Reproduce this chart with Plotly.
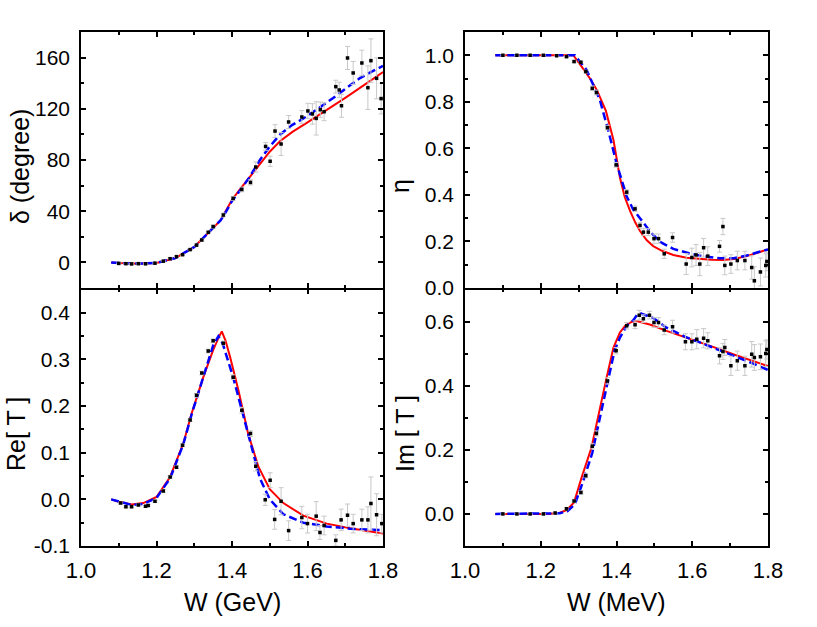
import plotly.graph_objects as go

# ---- data ----
# phase shift delta (degree)
w_delta = [1.100, 1.119, 1.134, 1.152, 1.171, 1.196, 1.218, 1.236, 1.253, 1.269, 1.289, 1.306, 1.320, 1.337,
           1.350, 1.377, 1.403, 1.426, 1.449, 1.463, 1.489, 1.501, 1.514, 1.530, 1.550, 1.585, 1.601, 1.613,
           1.623, 1.634, 1.644, 1.675, 1.684, 1.690, 1.706, 1.721, 1.744, 1.760, 1.768, 1.783, 1.795]
delta = [-0.8, -1.0, -1.2, -1.0, -1.1, -0.6, 1.0, 2.9, 4.5, 6.0, 10.0, 13.5, 17.5, 23.5,
         28.0, 37.0, 50.0, 57.0, 62.5, 74.5, 90.6, 79.0, 102.6, 92.5, 109.7, 113.6, 118.3, 116.0,
         112.5, 119.3, 117.7, 137.3, 134.7, 122.4, 159.7, 148.0, 155.8, 136.5, 157.6, 143.8, 128.0]
delta_err = [0.4, 0.4, 0.4, 0.4, 0.4, 0.4, 0.5, 0.5, 0.6, 0.6, 0.8, 0.8, 1.0, 1.0,
             1.2, 1.5, 1.5, 1.8, 2.0, 4.0, 3.0, 4.0, 5.0, 9.0, 5.0, 5.0, 6.0, 8.0,
             13.0, 6.0, 7.0, 5.0, 6.0, 9.0, 9.0, 9.0, 10.0, 17.0, 17.0, 16.0, 12.0]

w_delta_red = [1.08, 1.10, 1.15, 1.20, 1.25, 1.30, 1.33, 1.35, 1.37, 1.385, 1.40, 1.421, 1.445, 1.474,
               1.50, 1.527, 1.56, 1.598, 1.63, 1.668, 1.70, 1.739, 1.77, 1.80]
delta_red = [0, -0.5, -1.0, -0.4, 3.4, 12, 21, 27, 33, 41, 49, 57, 66, 77.6,
             86.5, 94.6, 102, 109, 115, 122, 128.5, 136.3, 142.5, 148.7]
delta_blue = [0, -0.5, -1.0, -0.4, 3.4, 12, 21, 27, 33, 40, 48, 56, 66, 80,
              90.5, 99.8, 107.5, 114, 120.5, 128.4, 135.5, 144, 149, 153.5]

# inelasticity eta
w_eta = [1.100, 1.137, 1.172, 1.207, 1.242, 1.268, 1.288, 1.306, 1.319, 1.336, 1.347, 1.376, 1.399,
         1.427, 1.449, 1.462, 1.471, 1.484, 1.499, 1.511, 1.526, 1.548, 1.584, 1.599, 1.610, 1.620,
         1.630, 1.641, 1.672, 1.681, 1.686, 1.702, 1.719, 1.739, 1.757, 1.764, 1.780, 1.794, 1.797]
eta = [1.0, 1.0, 1.0, 1.0, 0.998, 0.994, 0.973, 0.970, 0.930, 0.858, 0.840, 0.689, 0.529,
       0.412, 0.340, 0.269, 0.240, 0.240, 0.212, 0.212, 0.147, 0.217, 0.103, 0.131, 0.142, 0.103,
       0.173, 0.137, 0.179, 0.264, 0.097, 0.103, 0.118, 0.118, 0.088, 0.031, 0.069, 0.097, 0.114]
eta_err = [0.002, 0.002, 0.002, 0.002, 0.003, 0.004, 0.005, 0.005, 0.006, 0.01, 0.01, 0.01, 0.01,
           0.01, 0.012, 0.012, 0.015, 0.015, 0.02, 0.02, 0.02, 0.02, 0.045, 0.04, 0.045, 0.05,
           0.04, 0.04, 0.025, 0.035, 0.04, 0.04, 0.04, 0.04, 0.05, 0.06, 0.06, 0.05, 0.04]

w_eta_red = [1.08, 1.286, 1.308, 1.33, 1.348, 1.372, 1.392, 1.409, 1.422, 1.436, 1.45, 1.462, 1.48,
             1.497, 1.52, 1.55, 1.585, 1.62, 1.65, 1.682, 1.71, 1.744, 1.77, 1.80]
eta_red = [1.0, 1.0, 0.951, 0.90, 0.851, 0.761, 0.636, 0.475, 0.39, 0.33, 0.28, 0.245, 0.205,
           0.18, 0.16, 0.142, 0.13, 0.124, 0.121, 0.12, 0.125, 0.137, 0.149, 0.166]
w_eta_blue = [1.08, 1.29, 1.321, 1.356, 1.378, 1.40, 1.427, 1.445, 1.462, 1.49, 1.515, 1.55, 1.594,
              1.63, 1.673, 1.71, 1.744, 1.77, 1.80]
eta_blue = [1.0, 1.0, 0.937, 0.808, 0.679, 0.536, 0.393, 0.335, 0.30, 0.24, 0.198, 0.168, 0.148,
            0.136, 0.128, 0.128, 0.14, 0.151, 0.166]

# Re[T]
w_re = [1.105, 1.119, 1.134, 1.152, 1.171, 1.178, 1.196, 1.218, 1.236, 1.253, 1.269, 1.289, 1.306,
        1.320, 1.337, 1.350, 1.377, 1.403, 1.426, 1.449, 1.463, 1.488, 1.501, 1.513, 1.530, 1.550,
        1.585, 1.600, 1.623, 1.633, 1.644, 1.675, 1.689, 1.706, 1.721, 1.744, 1.760, 1.768, 1.783, 1.797]
re_t = [-0.008, -0.016, -0.016, -0.012, -0.015, -0.013, -0.004, 0.018, 0.048, 0.069, 0.116, 0.170, 0.223,
        0.271, 0.318, 0.340, 0.335, 0.262, 0.191, 0.141, 0.071, -0.001, 0.041, -0.043, -0.004, -0.067,
        -0.039, -0.052, -0.036, -0.071, -0.056, -0.088, -0.044, -0.034, -0.052, -0.044, -0.044, -0.009,
        -0.033, -0.052]
re_err = [0.002, 0.002, 0.002, 0.002, 0.002, 0.002, 0.002, 0.003, 0.003, 0.003, 0.003, 0.003, 0.004,
          0.004, 0.004, 0.004, 0.004, 0.005, 0.006, 0.006, 0.010, 0.012, 0.016, 0.021, 0.029, 0.021,
          0.024, 0.020, 0.031, 0.015, 0.020, 0.012, 0.023, 0.024, 0.020, 0.023, 0.028, 0.057, 0.045, 0.020]

w_re_red = [1.08, 1.10, 1.134, 1.165, 1.20, 1.236, 1.271, 1.293, 1.324, 1.35, 1.365, 1.373, 1.383, 1.395,
            1.417, 1.443, 1.47, 1.50, 1.536, 1.589, 1.651, 1.713, 1.80]
re_red = [0, -0.005, -0.011, -0.008, 0.005, 0.048, 0.12, 0.184, 0.262, 0.32, 0.348, 0.360, 0.340, 0.305,
          0.234, 0.140, 0.07, 0.022, -0.008, -0.035, -0.052, -0.062, -0.073]
w_re_blue = [1.08, 1.10, 1.134, 1.165, 1.20, 1.236, 1.271, 1.293, 1.324, 1.35, 1.364, 1.375, 1.403, 1.439,
             1.474, 1.50, 1.536, 1.589, 1.651, 1.713, 1.80]
re_blue = [0, -0.004, -0.012, -0.010, 0.003, 0.045, 0.118, 0.182, 0.262, 0.33, 0.350, 0.335, 0.262, 0.155,
           0.045, 0.0, -0.032, -0.05, -0.058, -0.063, -0.066]

# Im[T]
w_im = [1.100, 1.137, 1.172, 1.207, 1.238, 1.268, 1.288, 1.306, 1.319, 1.336, 1.347, 1.376, 1.399,
        1.427, 1.449, 1.460, 1.471, 1.487, 1.499, 1.511, 1.526, 1.548, 1.582, 1.599, 1.612, 1.630,
        1.641, 1.672, 1.681, 1.686, 1.702, 1.719, 1.739, 1.757, 1.764, 1.780, 1.794, 1.797]
im_t = [0.0, 0.0, 0.0, 0.0, 0.003, 0.016, 0.040, 0.067, 0.119, 0.211, 0.251, 0.415, 0.509,
        0.587, 0.590, 0.620, 0.609, 0.620, 0.597, 0.597, 0.574, 0.584, 0.537, 0.537, 0.545, 0.548,
        0.540, 0.493, 0.507, 0.519, 0.462, 0.478, 0.462, 0.498, 0.488, 0.490, 0.500, 0.513]
im_err = [0.001, 0.001, 0.001, 0.001, 0.002, 0.003, 0.004, 0.005, 0.006, 0.008, 0.008, 0.01, 0.01,
          0.01, 0.012, 0.015, 0.012, 0.012, 0.015, 0.015, 0.015, 0.02, 0.025, 0.025, 0.03, 0.03,
          0.025, 0.025, 0.025, 0.025, 0.03, 0.03, 0.03, 0.04, 0.04, 0.04, 0.04, 0.03]

w_im_red = [1.08, 1.22, 1.25, 1.268, 1.288, 1.308, 1.334, 1.356, 1.374, 1.392, 1.409, 1.425, 1.44, 1.453,
            1.49, 1.532, 1.58, 1.62, 1.67, 1.708, 1.75, 1.80]
im_red = [0, 0, 0.004, 0.012, 0.036, 0.114, 0.207, 0.332, 0.426, 0.519, 0.566, 0.59, 0.599, 0.602,
          0.590, 0.571, 0.552, 0.535, 0.515, 0.498, 0.48, 0.461]
w_im_blue = [1.08, 1.22, 1.25, 1.27, 1.29, 1.31, 1.336, 1.358, 1.376, 1.395, 1.409, 1.427, 1.445, 1.455,
             1.462, 1.497, 1.532, 1.58, 1.62, 1.67, 1.708, 1.761, 1.80]
im_blue = [0, 0, 0.002, 0.008, 0.03, 0.095, 0.19, 0.31, 0.41, 0.51, 0.55, 0.587, 0.605, 0.622,
           0.626, 0.611, 0.581, 0.553, 0.535, 0.512, 0.494, 0.469, 0.449]

# tick labels
x_ticks = [1.0, 1.2, 1.4, 1.6, 1.8]
x_labels = ["1.0", "1.2", "1.4", "1.6", "1.8"]
delta_ticks = [0, 40, 80, 120, 160]
eta_ticks = [0.0, 0.2, 0.4, 0.6, 0.8, 1.0]
eta_labels = ["0.0", "0.2", "0.4", "0.6", "0.8", "1.0"]
re_ticks = [-0.1, 0.0, 0.1, 0.2, 0.3, 0.4]
re_labels = ["-0.1", "0.0", "0.1", "0.2", "0.3", "0.4"]
im_ticks = [0.0, 0.2, 0.4, 0.6]
im_labels = ["0.0", "0.2", "0.4", "0.6"]

FONT = "Liberation Sans, Arial, sans-serif"
W, H = 817, 627

fig = go.Figure()

panels = [
    ("x", "y", w_delta, delta, delta_err, w_delta_red, delta_red, w_delta_red, delta_blue),
    ("x2", "y2", w_eta, eta, eta_err, w_eta_red, eta_red, w_eta_blue, eta_blue),
    ("x3", "y3", w_re, re_t, re_err, w_re_red, re_red, w_re_blue, re_blue),
    ("x4", "y4", w_im, im_t, im_err, w_im_red, im_red, w_im_blue, im_blue),
]

for xa, ya, wd, vd, ed, wr, vr, wb, vb in panels:
    fig.add_trace(go.Scatter(x=wr, y=vr, mode="lines", xaxis=xa, yaxis=ya,
                             line=dict(color="#ff0000", width=2)))
    fig.add_trace(go.Scatter(x=wb, y=vb, mode="lines", xaxis=xa, yaxis=ya,
                             line=dict(color="#0000ff", width=2.5, dash="8px,4px")))
    fig.add_trace(go.Scatter(x=wd, y=vd, mode="markers", xaxis=xa, yaxis=ya,
                             marker=dict(symbol="square", size=3.5, color="black"),
                             error_y=dict(type="data", array=ed, color="#c8c8c8",
                                          thickness=1, width=2.5)))

def xaxis(domain, labels, anchor):
    return dict(domain=domain, anchor=anchor, range=[1.0, 1.8], automargin=False,
                tickvals=x_ticks, ticktext=x_labels, showticklabels=labels,
                ticks="inside", ticklen=5, tickwidth=1.5, tickcolor="black",
                minor=dict(dtick=0.1, tick0=1.0, ticks="inside", ticklen=3,
                           tickwidth=1.5, tickcolor="black"),
                showline=True, linecolor="black", linewidth=1.5, mirror="ticks",
                showgrid=False, zeroline=False, ticklabelstandoff=4,
                tickfont=dict(family=FONT, size=22, color="black"))

def yaxis(domain, rng, tv, tt, minor_dtick, anchor):
    return dict(domain=domain, anchor=anchor, range=rng, automargin=False,
                tickvals=tv, ticktext=tt,
                ticks="inside", ticklen=5, tickwidth=1.5, tickcolor="black",
                minor=dict(dtick=minor_dtick, tick0=0, ticks="inside", ticklen=3,
                           tickwidth=1.5, tickcolor="black"),
                showline=True, linecolor="black", linewidth=1.5, mirror="ticks",
                showgrid=False, zeroline=False, ticklabelstandoff=5,
                tickfont=dict(family=FONT, size=21, color="black"))

left = [81 / W, 383 / W]
right = [465 / W, 768 / W]
# the two frame lines at the shared edge are drawn outward, so the lower
# panel starts 1.5 px lower to make them fall on top of each other
top = [1 - 288 / H, 1 - 32 / H]
bottom = [1 - 546 / H, 1 - 289.5 / H]

fig.update_layout(
    template="none",
    width=W, height=H,
    margin=dict(l=0, r=0, t=0, b=0, pad=0),
    paper_bgcolor="white", plot_bgcolor="white",
    showlegend=False,
    xaxis=xaxis(left, False, "y"),
    xaxis2=xaxis(right, False, "y2"),
    xaxis3=xaxis(left, True, "y3"),
    xaxis4=xaxis(right, True, "y4"),
    yaxis=yaxis(top, [-20, 180], delta_ticks, [str(v) for v in delta_ticks], 20, "x"),
    yaxis2=yaxis(top, [0, 1.1], eta_ticks, eta_labels, 0.1, "x2"),
    yaxis3=yaxis(bottom, [-0.1, 0.45], re_ticks, re_labels, 0.05, "x3"),
    yaxis4=yaxis(bottom, [-0.1, 0.7], im_ticks, im_labels, 0.1, "x4"),
)

titles = [
    ("δ (degree)", 20, 167, -90),
    ("η", 400, 186, -90),
    ("Re[ T ]", 16, 434, -90),
    ("Im [ T ]", 405, 434, -90),
    ("W (GeV)", 232, 602, 0),
    ("W (MeV)", 616, 602, 0),
]
for text, px, py, ang in titles:
    fig.add_annotation(text=text, x=px / W, y=1 - py / H, xref="paper", yref="paper",
                       xanchor="center", yanchor="middle", showarrow=False, textangle=ang,
                       font=dict(family=FONT, size=25, color="black"))

fig.write_html("out.html", config={"displayModeBar": False},
               post_script="document.body.style.margin='0';")
